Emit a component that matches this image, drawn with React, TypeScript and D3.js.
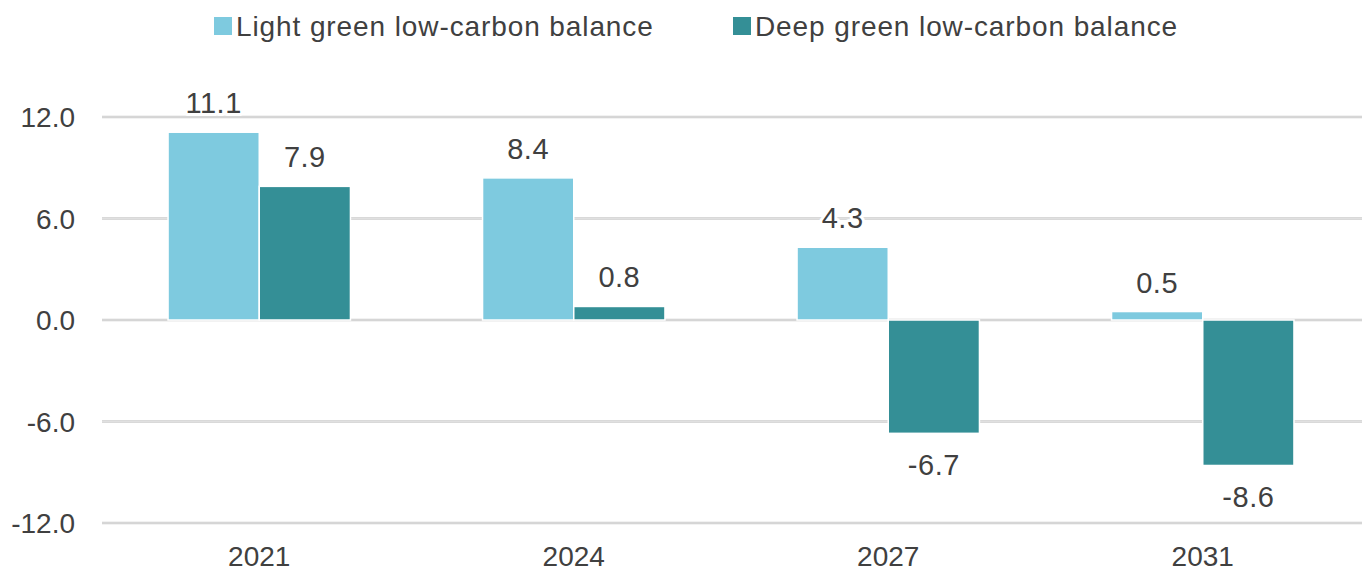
import React from "react";
import * as d3 from "d3";

const years = ["2021", "2024", "2027", "2031"];
const seriesNames = ["Light green low-carbon balance", "Deep green low-carbon balance"];
const lightGreen = [11.1, 8.4, 4.3, 0.5];
const deepGreen = [7.9, 0.8, -6.7, -8.6];
const yTicks = [-12, -6, 0, 6, 12];
const colors = ["#7ecadf", "#348f96"];

const W = 1364;
const H = 574;
const FONT = "'Liberation Sans', Arial, sans-serif";

export default function App() {
  const x = d3.scaleBand<string>().domain(years).range([102, 1360]).paddingInner(0).paddingOuter(0);
  const y = d3.scaleLinear().domain([-12, 12]).range([523, 117]);
  const groupW = x.bandwidth() * 0.58;
  const sub = d3.scaleBand<string>().domain(seriesNames).range([0, groupW]).padding(0);
  const series = [lightGreen, deepGreen];
  const halo = { paintOrder: "stroke" as const, stroke: "#fff", strokeWidth: 6, strokeLinejoin: "round" as const };

  return (
    <svg width={W} height={H} style={{ position: "absolute", left: 0, top: 0, background: "#fff" }} fontFamily={FONT}>
      {/* gridlines and y-axis labels */}
      {yTicks.map((t) => (
        <g key={t}>
          <line x1={102} x2={1362} y1={y(t)} y2={y(t)} stroke="#cccccc" strokeWidth={2.5} />
          <line x1={102} x2={1362} y1={y(t)} y2={y(t)} stroke="#e4e4e4" strokeWidth={0.8} />
          <text x={75} y={y(t)} dy="0.36em" textAnchor="end" fontSize={28} fill="#404040" style={halo}>
            {t.toFixed(1)}
          </text>
        </g>
      ))}

      {/* bars */}
      {years.map((yr, i) => {
        const gx = (x(yr) as number) + (x.bandwidth() - groupW) / 2;
        return (
          <g key={yr}>
            {series.map((vals, s) => {
              const v = vals[i];
              const bx = gx + (sub(seriesNames[s]) as number);
              const top = y(Math.max(0, v));
              const h = Math.abs(y(v) - y(0));
              return (
                <rect key={s} x={bx} y={top} width={sub.bandwidth()} height={h} fill={colors[s]} stroke="#ffffff" strokeWidth={1.5} />
              );
            })}
          </g>
        );
      })}

      {/* value labels */}
      {years.map((yr, i) => {
        const gx = (x(yr) as number) + (x.bandwidth() - groupW) / 2;
        return series.map((vals, s) => {
          const v = vals[i];
          const cx = gx + (sub(seriesNames[s]) as number) + sub.bandwidth() / 2;
          const ly = v >= 0 ? y(v) - 19 : y(v) + 42;
          return (
            <text key={yr + s} x={cx} y={ly} textAnchor="middle" fontSize={29} letterSpacing={0.5} fill="#404040" style={halo}>
              {v.toFixed(1)}
            </text>
          );
        });
      })}

      {/* category labels */}
      {years.map((yr) => (
        <text key={yr} x={(x(yr) as number) + x.bandwidth() / 2} y={566} textAnchor="middle" fontSize={28} fill="#404040">
          {yr}
        </text>
      ))}

      {/* legend */}
      {seriesNames.map((n, s) => {
        const lx = [214, 733][s];
        return (
          <g key={n}>
            <rect x={lx} y={17} width={18} height={18} fill={colors[s]} />
            <text x={lx + 22} y={36} fontSize={28} letterSpacing={0.9} fill="#404040">
              {n}
            </text>
          </g>
        );
      })}
    </svg>
  );
}
